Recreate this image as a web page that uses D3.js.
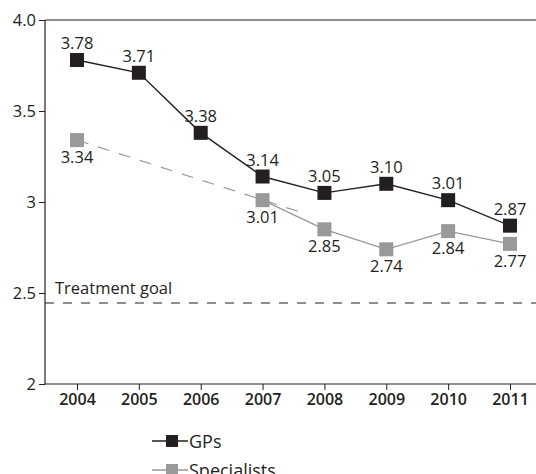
<!DOCTYPE html>
<html>
<head>
<meta charset="utf-8">
<script src="https://cdnjs.cloudflare.com/ajax/libs/d3/7.8.5/d3.min.js"></script>
<style>
  body { margin: 0; background: #fff; }
  text { font-family: "Open Sans", "Noto Sans", sans-serif; fill: #231f20; }
</style>
</head>
<body>
<script>
var years = [2004, 2005, 2006, 2007, 2008, 2009, 2010, 2011];
var gps = [3.78, 3.71, 3.38, 3.14, 3.05, 3.10, 3.01, 2.87];
var specYears = [2004, 2007, 2008, 2009, 2010, 2011];
var specialists = [3.34, 3.01, 2.85, 2.74, 2.84, 2.77];
var trendX = [2004, 2007.7];
var trendY = [3.34, 2.935];
var yTicks = [2, 2.5, 3, 3.5, 4];
var yTickLabels = ["2", "2.5", "3", "3.5", "4.0"];
var goal = 2.445;

var w = 536, h = 474;
var mLeft = 45, mTop = 20, mBottom = 384;

var svg = d3.select("body").append("svg")
  .attr("width", w)
  .attr("height", h);

var x = d3.scaleLinear().domain([2004, 2011]).range([77, 510]);
var y = d3.scaleLinear().domain([2, 4]).range([mBottom, mTop]);

// frame: top line
svg.append("line").attr("x1", mLeft).attr("x2", w).attr("y1", mTop).attr("y2", mTop)
  .attr("stroke", "#231f20").attr("stroke-width", 1.2);

var yAxis = svg.append("g")
  .attr("transform", "translate(" + mLeft + ",0)")
  .call(d3.axisLeft(y).tickValues(yTicks).tickSize(6).tickPadding(3)
    .tickFormat(function(d, i) { return yTickLabels[i]; }));
yAxis.select(".domain").attr("stroke", "#231f20").attr("stroke-width", 1.2).attr("d", "M0," + mTop + "V" + mBottom);
yAxis.selectAll("text").style("font-size", "16.5px").style("font-family", "Open Sans, sans-serif").attr("fill", "#231f20");
yAxis.selectAll("line").attr("stroke", "#231f20");

var xAxis = svg.append("g")
  .attr("transform", "translate(0," + mBottom + ")")
  .call(d3.axisBottom(x).tickValues(years).tickSize(6).tickPadding(4).tickFormat(d3.format("d")));
xAxis.select(".domain").attr("stroke", "#231f20").attr("stroke-width", 1.2).attr("d", "M" + mLeft + ",0H" + w);
xAxis.selectAll("text").style("font-size", "16px").style("font-weight", "600")
  .style("font-family", "Open Sans, sans-serif").attr("fill", "#231f20");
xAxis.selectAll("line").attr("stroke", "#231f20");

// treatment goal
svg.append("line")
  .attr("x1", mLeft).attr("x2", w)
  .attr("y1", y(goal)).attr("y2", y(goal))
  .attr("stroke", "#231f20").attr("stroke-width", 1.2)
  .attr("stroke-dasharray", "9,9");
svg.append("text").attr("x", 55).attr("y", y(goal) - 9)
  .style("font-size", "16.5px").text("Treatment goal");

// specialists trend (dashed)
svg.append("line")
  .attr("x1", x(trendX[0])).attr("y1", y(trendY[0]))
  .attr("x2", x(trendX[1])).attr("y2", y(trendY[1]))
  .attr("stroke", "#999").attr("stroke-width", 1.2)
  .attr("stroke-dasharray", "12,10");

var line = d3.line().x(function(d) { return x(d[0]); }).y(function(d) { return y(d[1]); });

var specData = specYears.map(function(yr, i) { return [yr, specialists[i]]; });
var gpData = years.map(function(yr, i) { return [yr, gps[i]]; });

svg.append("path").datum(specData.slice(1))
  .attr("d", line).attr("fill", "none").attr("stroke", "#999").attr("stroke-width", 1.4);
svg.append("path").datum(gpData)
  .attr("d", line).attr("fill", "none").attr("stroke", "#231f20").attr("stroke-width", 1.4);

var s = 14;
svg.selectAll(".spec").data(specData).enter().append("rect")
  .attr("x", function(d) { return x(d[0]) - s / 2; })
  .attr("y", function(d) { return y(d[1]) - s / 2; })
  .attr("width", s).attr("height", s).attr("fill", "#999");
svg.selectAll(".gp").data(gpData).enter().append("rect")
  .attr("x", function(d) { return x(d[0]) - s / 2; })
  .attr("y", function(d) { return y(d[1]) - s / 2; })
  .attr("width", s).attr("height", s).attr("fill", "#231f20");

svg.selectAll(".gpl").data(gpData).enter().append("text")
  .attr("x", function(d) { return x(d[0]); })
  .attr("y", function(d) { return y(d[1]) - 11; })
  .attr("text-anchor", "middle").style("font-size", "16.5px")
  .text(function(d) { return d[1].toFixed(2); });
svg.selectAll(".spl").data(specData).enter().append("text")
  .attr("x", function(d) { return x(d[0]); })
  .attr("y", function(d) { return y(d[1]) + 23; })
  .attr("text-anchor", "middle").style("font-size", "16.5px")
  .text(function(d) { return d[1].toFixed(2); });

// legend
var legend = [["GPs", "#231f20"], ["Specialists", "#999"]];
var lg = svg.selectAll(".lg").data(legend).enter().append("g")
  .attr("transform", function(d, i) { return "translate(152," + (441 + i * 29) + ")"; });
lg.append("line").attr("x1", 0).attr("x2", 36).attr("stroke", function(d) { return d[1]; }).attr("stroke-width", 1.4);
lg.append("rect").attr("x", 14).attr("y", -6).attr("width", 12).attr("height", 12)
  .attr("fill", function(d) { return d[1]; });
lg.append("text").attr("x", 37).attr("y", 7).style("font-size", "18px").text(function(d) { return d[0]; });
</script>
</body>
</html>
